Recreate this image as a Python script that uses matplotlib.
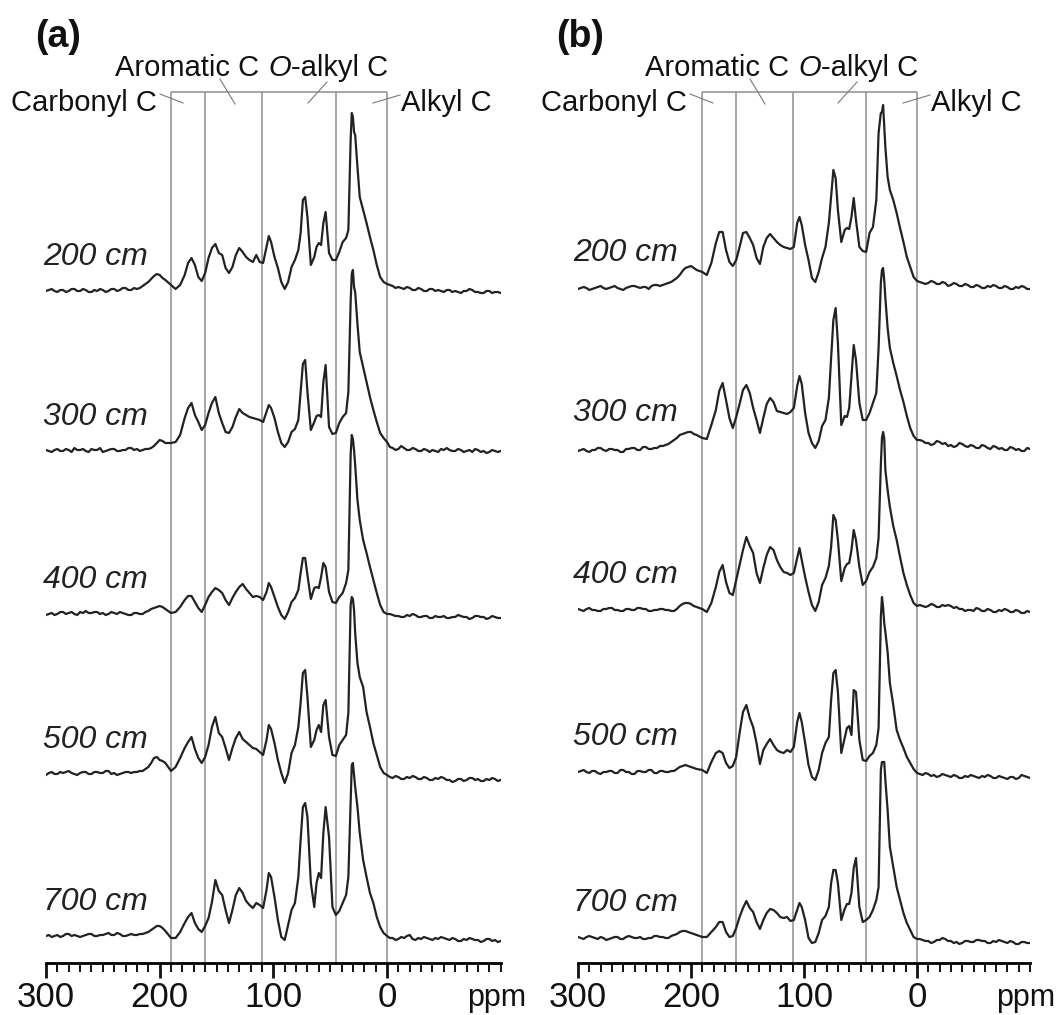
import matplotlib
matplotlib.use("Agg")
import matplotlib.pyplot as plt
from matplotlib import font_manager
from matplotlib.lines import Line2D

W, H = 1057, 1015

# ---------------- data ----------------
PPM_LEFT = [300, 297.5, 295, 292.5, 290, 287.5, 285, 282.5, 280, 277.5,
            275, 272.5, 270, 267.5, 265, 262.5, 260, 257.5, 255, 252.5,
            250, 247.5, 245, 242.5, 240, 237.5, 235, 232.5, 230, 227.5,
            225, 222.5, 220, 217.5, 215, 212.5, 210, 207.5, 205, 202.5,
            200, 197.5, 195]
PPM_MID = [190, 186, 182, 178, 175, 172, 169, 166, 163, 160,
           157, 154, 151, 148, 145, 142, 139, 136, 133, 130,
           127, 124, 121, 118, 115, 112, 109, 106, 104, 102,
           99, 96, 93, 90, 87, 84, 81, 78, 76, 74,
           72, 70, 67, 64, 62, 60, 58, 56, 54, 51,
           48, 45, 42, 39, 36, 34, 32, 31, 30, 29,
           28, 26, 24, 21, 18, 15, 12, 9, 6, 3, 0]
PPM_RIGHT = [-2.5, -5, -7.5, -10, -12.5, -15, -17.5, -20, -22.5, -25,
             -27.5, -30, -32.5, -35, -37.5, -40, -42.5, -45, -47.5, -50,
             -52.5, -55, -57.5, -60, -62.5, -65, -67.5, -70, -72.5, -75,
             -77.5, -80, -82.5, -85, -87.5, -90, -92.5, -95, -97.5, -100]
PPM = PPM_LEFT + PPM_MID + PPM_RIGHT

DEPTHS = ['200 cm', '300 cm', '400 cm', '500 cm', '700 cm']
REGION_EDGES = [190, 160, 110, 45, 0]

# panel (a) intensities (arbitrary units)
A200 = ([1, 2, 3, 1, 0, 2, 2, 0, 1, 3, 3, 1, 1, 3, 2, 0, 0, 2, 1, 3,
         2, 0, 1, 3, 3, 1, 2, 4, 4, 2, 2, 4, 3, 4, 6, 8, 10, 13, 16, 18, 17, 14, 12] +
        [7, 3, 7, 17, 29, 34, 27, 15, 11, 19, 34, 44, 48, 39, 37, 24, 19, 25, 37, 44,
         40, 35, 32, 30, 37, 30, 29, 45, 56, 50, 35, 24, 10, 3, 10, 25, 32, 42, 59, 92,
         95, 75, 27, 35, 45, 49, 47, 69, 80, 39, 32, 32, 40, 50, 54, 62, 152, 179, 175, 160,
         157, 125, 95, 82, 69, 55, 42, 27, 15, 10, 8] +
        [7, 6, 4, 5, 4, 3, 5, 4, 2, 2, 4, 3, 1, 1, 3, 3, 1, 2, 1, 0,
         2, 2, 0, 1, 0, -1, 1, 1, 3, 2, 0, 0, -1, -1, 1, 1, -1, 0, 0, -1])
A300 = ([2, 1, 0, 2, 3, 1, 1, 3, 2, 0, 4, 2, 2, 3, 1, 0, 3, 2, 2, 4,
         0, 1, 2, 3, 3, 1, 1, 2, 2, 4, 4, 2, 3, 1, 2, 3, 3, 4, 6, 9, 12, 11, 9] +
        [9, 10, 17, 34, 44, 49, 37, 30, 22, 27, 39, 49, 55, 39, 29, 20, 19, 25, 35, 43,
         39, 37, 35, 34, 33, 32, 30, 40, 47, 44, 34, 20, 9, 5, 10, 20, 23, 32, 60, 88,
         92, 60, 22, 30, 36, 37, 35, 70, 87, 25, 18, 19, 29, 35, 39, 60, 150, 178, 182, 165,
         160, 128, 100, 85, 70, 55, 42, 30, 19, 14, 10] +
        [5, 4, 2, 3, 6, 4, 2, 2, 4, 3, 1, 1, 3, 2, 0, 2, 1, 0, 3, 2,
         4, 2, 1, 1, 3, 2, 0, 1, 2, 0, 3, 2, 0, 1, -1, 0, 2, 1, 0, 1])
A400 = ([0, 1, 2, 0, 1, 3, 3, 1, 2, 3, 1, 0, 3, 2, 4, 2, 2, 3, 3, 1,
         2, 0, 1, 3, 2, 1, 3, 2, 1, 0, 0, 2, 2, 1, 1, 3, 4, 6, 7, 8, 9, 8, 6] +
        [2, 3, 8, 15, 19, 19, 13, 7, 3, 10, 18, 23, 27, 25, 22, 15, 10, 17, 23, 28,
         31, 26, 22, 18, 19, 18, 15, 23, 32, 28, 18, 8, 0, -4, 3, 13, 17, 25, 42, 57,
         57, 40, 16, 27, 28, 27, 38, 52, 48, 23, 13, 12, 18, 22, 32, 45, 160, 180, 176, 165,
         150, 115, 95, 75, 62, 48, 35, 22, 10, 3, 1] +
        [1, 0, -1, -1, -2, -2, 0, -1, 1, 0, -2, -2, -1, -1, -3, -3, -1, -2, -2, -1,
         -3, -3, -2, -2, 0, -1, -2, -2, -4, -3, -1, -1, -2, -2, -4, -3, -1, -2, -3, -3])
A500 = ([0, 2, 3, 1, 1, 3, 2, 3, 4, 2, 1, 0, 2, 3, 3, 1, 1, 3, 3, 2,
         2, 4, 4, 1, 2, 0, 1, 2, 3, 3, 2, 3, 3, 4, 4, 6, 8, 12, 17, 18, 15, 14, 12] +
        [4, 8, 17, 27, 33, 38, 26, 17, 12, 18, 30, 48, 58, 42, 38, 27, 15, 27, 37, 43,
         36, 33, 30, 27, 26, 23, 20, 35, 50, 46, 32, 15, 2, -8, 2, 22, 30, 48, 72, 102,
         105, 78, 28, 35, 45, 50, 43, 70, 75, 38, 20, 19, 30, 35, 40, 62, 170, 178, 176, 165,
         142, 112, 98, 88, 63, 48, 32, 20, 8, 2, 0] +
        [-2, -3, -1, -2, -4, -4, -2, -3, -1, -2, -4, -4, -2, -3, -5, -5, -3, -4, -2, -3,
         -5, -5, -7, -6, -4, -4, -6, -5, -3, -3, -5, -4, -6, -6, -4, -5, -3, -4, -6, -5])
A700 = ([1, 2, 0, 1, 2, 0, 1, 3, 3, 1, 2, 1, 0, 1, 2, 3, 3, 1, 1, 2,
         2, 3, 4, 2, 2, 4, 3, 1, 1, 2, 3, 2, 2, 3, 3, 4, 5, 7, 9, 11, 11, 9, 6] +
        [-1, -1, 5, 14, 20, 24, 14, 8, 5, 11, 19, 35, 57, 46, 42, 27, 14, 27, 42, 49,
         44, 36, 32, 29, 34, 32, 29, 47, 64, 60, 40, 17, 0, -3, 12, 27, 34, 60, 97, 130,
         134, 120, 54, 30, 54, 64, 59, 104, 130, 100, 30, 22, 26, 34, 42, 60, 134, 172, 174, 162,
         150, 130, 104, 77, 60, 44, 34, 20, 10, 4, 1] +
        [-1, -1, -3, -2, 0, -1, 1, 2, -2, -3, -1, -2, 0, -1, -2, -3, -1, -2, 0, -1,
         -2, -3, -1, -2, -4, -4, -2, -3, -1, -2, -3, -3, -5, -4, -2, -2, -4, -3, -5, -4])

# panel (b) intensities
B200 = ([-1, 0, 1, 0, -2, -1, 0, 1, 2, 0, -1, 0, 1, 2, 0, -1, -2, 0, 1, 2,
         2, 1, 0, 1, 1, -1, 2, 3, 3, 2, 3, 4, 5, 6, 8, 10, 13, 17, 20, 21, 22, 20, 18] +
        [16, 13, 25, 45, 56, 56, 38, 26, 22, 28, 41, 55, 56, 50, 43, 30, 24, 41, 50, 54,
         50, 46, 43, 41, 40, 39, 41, 65, 71, 63, 43, 28, 10, 6, 16, 30, 41, 65, 91, 118,
         110, 78, 46, 58, 60, 59, 71, 90, 68, 41, 37, 36, 55, 61, 88, 155, 175, 176, 183, 161,
         141, 111, 98, 88, 75, 60, 46, 31, 21, 11, 7] +
        [6, 5, 4, 5, 7, 6, 4, 4, 6, 5, 2, 3, 5, 4, 2, 2, 4, 3, 1, 1,
         3, 2, 0, 0, 2, 1, 3, 2, 0, 0, 2, 1, -1, -1, 1, 0, 2, 1, -1, -1])
B300 = ([-3, -2, -1, -3, -4, -2, -2, 0, 0, -2, -3, -1, -1, -2, -2, -4, -4, -1, -1, 0,
         0, -2, -2, 1, 1, -1, -1, 0, 0, 2, 2, 3, 4, 6, 8, 10, 13, 14, 15, 16, 16, 14, 13] +
        [10, 9, 23, 38, 57, 65, 48, 30, 20, 31, 44, 58, 63, 55, 40, 28, 15, 30, 44, 50,
         46, 37, 36, 35, 34, 36, 40, 62, 72, 64, 35, 15, 5, 0, 7, 22, 28, 50, 90, 128,
         140, 105, 23, 32, 31, 40, 72, 103, 88, 45, 28, 28, 35, 45, 55, 100, 165, 178, 180, 168,
         150, 120, 100, 85, 72, 58, 46, 32, 20, 12, 8] +
        [8, 7, 5, 5, 3, 4, 7, 6, 4, 5, 2, 3, 1, 2, 5, 4, 2, 1, 3, 2,
         0, 0, 3, 2, 0, -1, 2, 1, -1, 0, -2, -2, 1, 0, -2, -1, -3, -3, 0, -1])
B400 = ([1, 0, -1, 1, 2, 0, 0, -1, -1, 1, 1, 2, 2, 0, 0, -1, -1, 1, 1, 0,
         0, 2, 2, 1, 1, -1, -1, 0, 0, 1, 1, 0, 0, -1, -1, 1, 4, 6, 7, 7, 6, 4, 3] +
        [1, -2, 7, 23, 38, 45, 28, 17, 15, 30, 45, 60, 73, 64, 57, 37, 27, 42, 55, 63,
         60, 50, 43, 38, 37, 35, 37, 52, 62, 50, 33, 18, 5, -1, 8, 25, 32, 44, 63, 95,
         90, 70, 29, 42, 46, 47, 60, 80, 70, 43, 25, 29, 38, 43, 52, 72, 145, 172, 178, 172,
         140, 120, 103, 84, 70, 53, 37, 25, 15, 7, 4] +
        [5, 4, 3, 4, 6, 5, 3, 3, 5, 4, 5, 4, 2, 3, 1, 1, -1, 0, 0, -1,
         2, 1, -1, -1, 1, 0, -2, -2, 0, -1, 1, 0, -2, -2, 0, -1, -3, -3, -1, -2])
B500 = ([0, 1, 2, 0, -1, 1, 1, -1, -2, 0, 0, 1, 1, -1, -1, 2, 2, 0, 0, -2,
         -2, 1, 1, 0, 0, 2, 2, -1, -1, 1, 1, 0, 0, 1, 1, 3, 5, 6, 7, 6, 5, 4, 3] +
        [2, -1, 10, 19, 21, 19, 9, 4, 6, 15, 39, 60, 67, 54, 45, 29, 8, 22, 28, 33,
         27, 22, 20, 19, 22, 20, 25, 50, 59, 50, 29, 7, -5, -8, 2, 19, 29, 35, 72, 99,
         102, 80, 19, 34, 44, 46, 37, 82, 80, 32, 12, 11, 16, 19, 27, 44, 155, 175, 165, 149,
         140, 120, 89, 67, 42, 32, 24, 15, 9, 3, -1] +
        [-2, -3, -1, -2, -4, -3, -5, -4, -2, -3, -4, -5, -3, -4, -6, -6, -4, -5, -3, -4,
         -5, -6, -4, -5, -3, -4, -6, -6, -4, -5, -6, -7, -5, -5, -7, -6, -3, -4, -5, -6])
B700 = ([1, 0, -1, 1, 2, 1, 0, -1, 1, 0, -2, -1, 0, 1, 1, -1, -1, 1, 2, 1,
         0, 0, 1, -1, -1, 0, 0, 2, 2, 1, 1, 0, 0, 2, 3, 4, 6, 7, 7, 6, 5, 4, 3] +
        [1, 1, 6, 11, 16, 16, 6, 1, 2, 10, 21, 30, 37, 30, 26, 16, 9, 18, 25, 29,
         28, 25, 21, 20, 21, 17, 18, 28, 35, 31, 18, 0, -5, -4, 5, 18, 22, 31, 55, 68,
         68, 55, 18, 29, 34, 34, 45, 70, 80, 31, 16, 18, 21, 28, 38, 51, 168, 176, 176, 176,
         158, 128, 91, 71, 51, 38, 25, 15, 8, 1, -1] +
        [-1, -2, -3, -3, -5, -4, -2, -2, 0, -1, -3, -3, -5, -4, -6, -5, -3, -3, -4, -4,
         -2, -2, -3, -3, -5, -5, -3, -4, -2, -3, -4, -5, -3, -4, -6, -6, -4, -4, -5, -5])

for _s in (A200, A300, A400, A500, A700, B200, B300, B400, B500, B700):
    assert len(_s) == len(PPM), len(_s)

# ---------------- fonts ----------------
names = {f.name for f in font_manager.fontManager.ttflist}
BASE = 'Liberation Sans' if 'Liberation Sans' in names else 'DejaVu Sans'
if 'Liberation Sans Narrow' in names:
    ANN_FONT, ANN_SIZE = 'Liberation Sans Narrow', 25
else:
    ANN_FONT, ANN_SIZE = BASE, 21
plt.rcParams['font.family'] = [BASE, 'DejaVu Sans']

fig = plt.figure(figsize=(W / 100, H / 100), dpi=100)
renderer = fig.canvas.get_renderer()


def fx(x):
    return x / W


def fy(y):
    return 1 - y / H


def add_line(x1, y1, x2, y2, color='#7a7a7a', lw=0.8):
    fig.add_artist(Line2D([fx(x1), fx(x2)], [fy(y1), fy(y2)],
                          transform=fig.transFigure, color=color, lw=lw))


PANELS = [
    dict(tag='(a)', tagx=35, left=46, scale=1.1367, dx=0,
         bases=[292, 452, 615, 775, 937], spectra=[A200, A300, A400, A500, A700]),
    dict(tag='(b)', tagx=556, left=578, scale=1.13, dx=530,
         bases=[288, 448, 610, 772, 938], spectra=[B200, B300, B400, B500, B700]),
]

AXIS_Y = 963
TOP_Y = 92
GREY = '#8e8e8e'

for p in PANELS:
    width = 400 * p['scale']
    ax = fig.add_axes([fx(p['left']), fy(AXIS_Y), width / W, AXIS_Y / H])
    ax.set_xlim(300, -100)
    ax.set_ylim(AXIS_Y, 0)
    ax.patch.set_visible(False)
    for s in ('top', 'left', 'right'):
        ax.spines[s].set_visible(False)
    ax.spines['bottom'].set_linewidth(2.0)
    ax.set_yticks([])
    ax.set_xticks([300, 200, 100, 0])
    ax.set_xticklabels(['300', '200', '100', '0'])
    ax.set_xticks([v for v in range(300, -101, -10) if v % 100 != 0 or v == -100],
                  minor=True)
    ax.tick_params(axis='x', which='major', direction='out', length=11, width=2.0,
                   labelsize=25, pad=2, colors='#111111')
    ax.tick_params(axis='x', which='minor', direction='out', length=6.5, width=1.4,
                   colors='#111111')

    # region lines
    ax.vlines(REGION_EDGES, TOP_Y, AXIS_Y, colors=GREY, lw=1.1, zorder=1)
    ax.hlines(TOP_Y, REGION_EDGES[0], REGION_EDGES[-1], colors=GREY, lw=1.1, zorder=1)

    # spectra
    for base, spec in zip(p['bases'], p['spectra']):
        ax.plot(PPM, [base - v for v in spec], color='#222222', lw=1.6, zorder=3,
                solid_joinstyle='round')

    dx = p['dx']
    # depth labels
    for base, lab in zip(p['bases'], DEPTHS):
        fig.text(fx(43 + dx), fy(base - 27), lab, fontsize=23, fontstyle='italic',
                 ha='left', va='baseline', color='#222222')

    # panel tag
    fig.text(fx(p['tagx']), fy(47), p['tag'], fontsize=27,
             fontweight='bold', ha='left', va='baseline', color='#111111')

    # ppm label
    fig.text(fx(p['left'] + width - 4), fy(1006), 'ppm', fontsize=22,
             ha='center', va='baseline', color='#111111')

    # region annotations
    kw = dict(fontsize=ANN_SIZE, family=[ANN_FONT, 'DejaVu Sans'], va='baseline',
              color='#111111')
    fig.text(fx(157 + dx), fy(111), 'Carbonyl C', ha='right', **kw)
    fig.text(fx(187 + dx), fy(76), 'Aromatic C', ha='center', **kw)
    fig.text(fx(401 + dx), fy(111), 'Alkyl C', ha='left', **kw)
    t1 = fig.text(0, fy(76), 'O', ha='left', fontstyle='italic', **kw)
    t2 = fig.text(0, fy(76), '-alkyl C', ha='left', **kw)
    w1 = t1.get_window_extent(renderer).width
    w2 = t2.get_window_extent(renderer).width
    x0 = 328 + dx - (w1 + w2) / 2
    t1.set_x(fx(x0))
    t2.set_x(fx(x0 + w1))

    add_line(160 + dx, 94, 183 + dx, 103)
    add_line(220 + dx, 79, 235 + dx, 104)
    add_line(327 + dx, 82, 308 + dx, 103)
    add_line(400 + dx, 95, 373 + dx, 103)

fig.savefig('out.png', dpi=100)
